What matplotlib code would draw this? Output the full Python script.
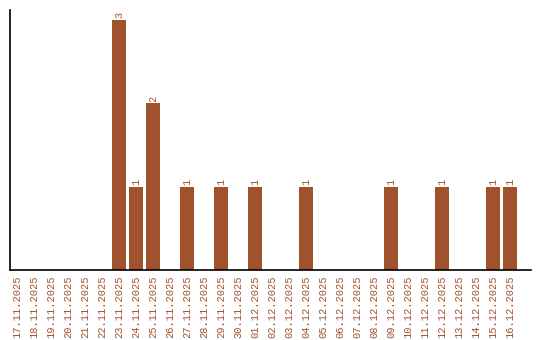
import matplotlib
matplotlib.use('Agg')
import matplotlib.pyplot as plt

dates = ['17.11.2025', '18.11.2025', '19.11.2025', '20.11.2025', '21.11.2025',
         '22.11.2025', '23.11.2025', '24.11.2025', '25.11.2025', '26.11.2025',
         '27.11.2025', '28.11.2025', '29.11.2025', '30.11.2025', '01.12.2025',
         '02.12.2025', '03.12.2025', '04.12.2025', '05.12.2025', '06.12.2025',
         '07.12.2025', '08.12.2025', '09.12.2025', '10.12.2025', '11.12.2025',
         '12.12.2025', '13.12.2025', '14.12.2025', '15.12.2025', '16.12.2025']
counts = [0, 0, 0, 0, 0, 0, 3, 1, 2, 0,
          1, 0, 1, 0, 1, 0, 0, 1, 0, 0,
          0, 0, 1, 0, 0, 1, 0, 0, 1, 1]

color = '#a0522d'
font = 'Liberation Mono'

fig = plt.figure(figsize=(5.4, 3.4), dpi=100)
ax = fig.add_axes([0.0194, 0.206, 0.964, 0.765])

x = list(range(len(dates)))
ax.bar(x, counts, width=0.8, color=color)
for xi, c in zip(x, counts):
    if c > 0:
        ax.text(xi, c + 0.02, str(c), rotation=90, ha='center', va='bottom',
                color=color, fontsize=7.5, family=font)

ax.set_xlim(-0.38, 30.24)
ax.set_ylim(0, 3.12)
ax.set_xticks(x)
ax.set_xticklabels(dates, rotation=90, color=color, fontsize=7.5, family=font)
ax.tick_params(axis='x', length=0, pad=4)
ax.set_yticks([])
for s in ['top', 'right']:
    ax.spines[s].set_visible(False)
for s in ['left', 'bottom']:
    ax.spines[s].set_linewidth(1.2)

fig.savefig('out.png', dpi=100)
